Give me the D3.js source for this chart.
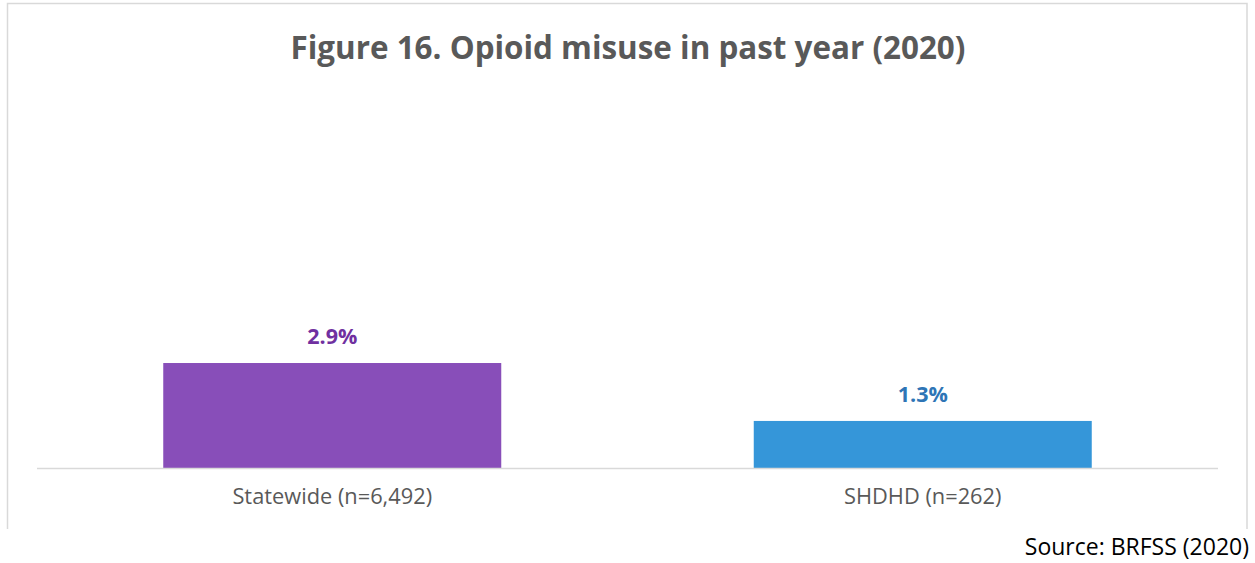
<!DOCTYPE html>
<html>
<head>
<meta charset="utf-8">
<script src="https://cdn.jsdelivr.net/npm/d3@7"></script>
<style>
  html, body { margin: 0; padding: 0; background: #fff; }
  svg { display: block; font-family: "Open Sans", "Noto Sans", sans-serif; }
</style>
</head>
<body>
<svg id="chart" width="1255" height="563"></svg>
<script>
// Opioid misuse in the past year, 2020 (percent of adults)
const categories = ["Statewide (n=6,492)", "SHDHD (n=262)"];
const values = [2.9, 1.3];
const valueLabels = ["2.9%", "1.3%"];
const barColors = ["#884EB9", "#3596D9"];
const labelColors = ["#7030A0", "#2E75B6"];
const yDomain = [0, 10];

const svg = d3.select("#chart");

// Outer frame (open at the bottom edge)
svg.append("path")
  .attr("d", "M7.5,529 L7.5,3.5 L1247,3.5 L1247,529")
  .attr("fill", "none")
  .attr("stroke", "#d9d9d9")
  .attr("stroke-width", 1.5);

// Title
svg.append("text")
  .attr("x", 628)
  .attr("y", 59)
  .attr("text-anchor", "middle")
  .attr("font-size", 31.4)
  .attr("font-weight", 700)
  .attr("fill", "#595959")
  .text("Figure 16. Opioid misuse in past year (2020)");

const plot = { left: 37, right: 1218, top: 106, bottom: 468 };

const x = d3.scaleBand()
  .domain(categories)
  .range([plot.left, plot.right])
  .paddingInner(0.4276)
  .paddingOuter(0.2138);

const y = d3.scaleLinear()
  .domain(yDomain)
  .range([plot.bottom, plot.top]);

// Bars
svg.append("g")
  .selectAll("rect")
  .data(categories)
  .join("rect")
  .attr("x", d => x(d))
  .attr("width", x.bandwidth())
  .attr("y", (d, i) => y(values[i]))
  .attr("height", (d, i) => y(0) - y(values[i]))
  .attr("fill", (d, i) => barColors[i]);

// Category axis
const xAxis = svg.append("g")
  .attr("transform", `translate(0,${plot.bottom})`)
  .call(d3.axisBottom(x).tickSize(0).tickPadding(21));
xAxis.select(".domain")
  .attr("stroke", "#d9d9d9")
  .attr("stroke-width", 1.5)
  .attr("d", `M${plot.left},0.5H${plot.right}`);
xAxis.selectAll(".tick text")
  .attr("font-family", "\"Open Sans\", \"Noto Sans\", sans-serif")
  .attr("font-size", 21.8)
  .attr("fill", "#595959");

// Value labels
svg.append("g")
  .selectAll("text")
  .data(categories)
  .join("text")
  .attr("x", d => x(d) + x.bandwidth() / 2)
  .attr("y", (d, i) => y(values[i]) - 19)
  .attr("text-anchor", "middle")
  .attr("font-size", 21.5)
  .attr("font-weight", 700)
  .attr("fill", (d, i) => labelColors[i])
  .text((d, i) => valueLabels[i]);

// Source note
svg.append("text")
  .attr("x", 1249)
  .attr("y", 555)
  .attr("text-anchor", "end")
  .attr("font-size", 23)
  .attr("fill", "#000")
  .text("Source: BRFSS (2020)");
</script>
</body>
</html>
